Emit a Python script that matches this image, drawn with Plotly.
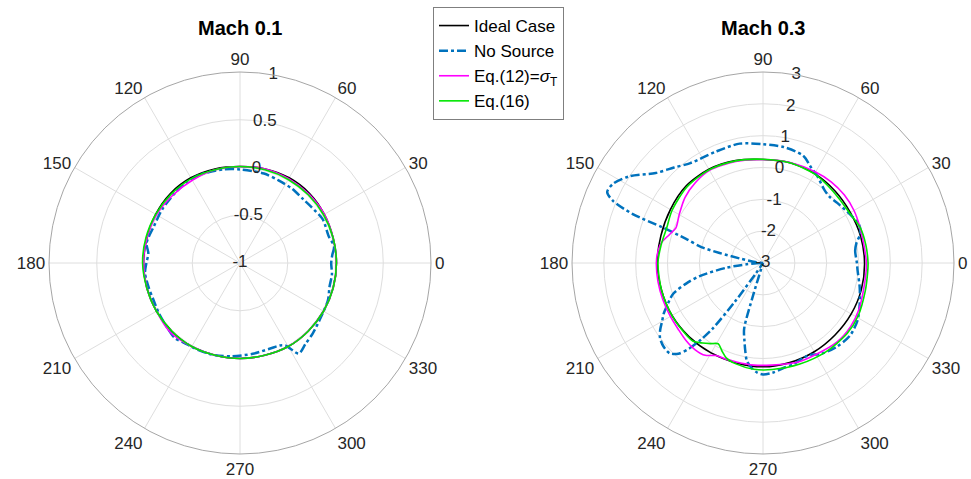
import plotly.graph_objects as go

# ---------------- data ----------------
angle_ticks = [0, 30, 60, 90, 120, 150, 180, 210, 240, 270, 300, 330]
angle_ticktext = [str(a) for a in angle_ticks]

r_label_angle = 80
r_ticks_01 = [-1, -0.5, 0, 0.5, 1]
r_ticktext_01 = ["-1", "-0.5", "0", "0.5", "1"]
r_ticks_03 = [-3, -2, -1, 0, 1, 2, 3]
r_ticktext_03 = ["-3", "-2", "-1", "0", "1", "2", "3"]

# Mach 0.1
theta_circ = [0, 15, 30, 45, 60, 75, 90, 105, 120, 135, 150, 165, 180,
              195, 210, 225, 240, 255, 270, 285, 300, 315, 330, 345, 360]
ideal_01 = [0.01, 0.01, 0.02, 0.03, 0.03, 0.02, 0.01, 0.02, 0.03, 0.03, 0.02, 0.01, 0.01,
            0.01, 0.01, 0.01, 0.01, 0.00, 0.00, 0.00, 0.01, 0.01, 0.01, 0.01, 0.01]
eq12_01 = [0.01, 0.01, 0.02, 0.02, 0.02, 0.02, 0.01, 0.01, 0.00, 0.00, 0.01, 0.01, 0.01,
           0.01, 0.01, 0.03, 0.01, 0.00, 0.00, 0.00, 0.01, 0.01, 0.01, 0.01, 0.01]
eq16_01 = [0.01, 0.01, 0.01, 0.01, 0.01, 0.01, 0.01, 0.01, 0.02, 0.02, 0.02, 0.02, 0.02,
           0.01, 0.01, 0.01, 0.01, 0.00, 0.00, 0.00, 0.01, 0.01, 0.01, 0.01, 0.01]
theta_ns_01 = [0, 5, 10, 17, 28, 38, 45, 55, 65, 75, 90, 100, 114, 125, 133, 145, 157,
               168, 174, 180, 186, 195, 203, 212, 221, 229, 235, 245, 255, 265, 278,
               289, 296, 299, 303, 309, 316, 326, 337, 345, 353, 360]
nosource_01 = [-0.045, -0.03, 0.0, -0.03, -0.02, -0.05, -0.06, -0.05, -0.045, -0.03,
               -0.02, -0.005, 0.015, 0.01, 0.0, -0.01, -0.02, 0.0, -0.035, -0.02, 0.0,
               -0.01, -0.015, 0.0, 0.017, 0.04, 0.02, 0.01, 0.0, -0.02, -0.04, -0.05,
               -0.04, -0.01, 0.13, 0.09, 0.06, 0.02, 0.0, -0.03, -0.03, -0.045]

# Mach 0.3
ideal_03 = [0.19, 0.18, 0.17, 0.20, 0.24, 0.26, 0.25, 0.33, 0.40, 0.42, 0.36, 0.32, 0.32,
            0.30, 0.30, 0.28, 0.26, 0.25, 0.26, 0.24, 0.22, 0.20, 0.20, 0.20, 0.19]
theta_eq12_03 = [0, 10, 21, 30, 40, 50, 60, 75, 90, 105, 120, 130, 140, 150, 158, 163,
                 169, 175, 180, 190, 200, 210, 218, 225, 232, 238, 243, 248, 255, 265,
                 275, 289, 300, 313, 324, 334, 345, 355, 360]
eq12_03 = [0.25, 0.22, 0.25, 0.30, 0.33, 0.33, 0.30, 0.27, 0.25, 0.30, 0.36, 0.30, 0.20,
           0.04, -0.05, 0.07, 0.26, 0.33, 0.35, 0.35, 0.35, 0.36, 0.38, 0.43, 0.46, 0.42,
           0.26, 0.24, 0.22, 0.22, 0.22, 0.30, 0.32, 0.40, 0.40, 0.35, 0.27, 0.25, 0.25]
theta_eq16_03 = [0, 10, 20, 30, 40, 50, 60, 75, 90, 105, 120, 135, 150, 160, 170, 180,
                 195, 210, 220, 228, 233, 237, 241, 245, 249, 255, 265, 275, 290, 305,
                 320, 331, 345, 355, 360]
eq16_03 = [0.30, 0.28, 0.25, 0.14, 0.13, 0.17, 0.23, 0.26, 0.26, 0.32, 0.38, 0.38, 0.30,
           0.22, 0.25, 0.30, 0.30, 0.30, 0.30, 0.30, 0.15, 0.02, -0.10, 0.05, 0.20, 0.28,
           0.35, 0.36, 0.38, 0.42, 0.45, 0.42, 0.33, 0.30, 0.30]
theta_ns_03 = [0, 7.5, 12, 17, 22, 30, 39, 45, 50, 58, 63, 69.5, 80, 90, 101, 113, 126,
               133, 140, 147, 152, 155.5, 157.5, 159.4, 160.5, 162.5, 165.5, 167, 169,
               173, 178, 182, 184.6, 187.4, 191.7, 195, 199, 204, 207, 210, 213, 216,
               220, 224, 227, 229.2, 231, 232.5, 234, 235.5, 237, 252, 253, 254, 256.5,
               258.5, 260.5, 263.5, 267, 270, 275, 281, 287, 293, 297, 302, 311, 320,
               329, 337, 346, 355.5, 360]
nosource_03 = [-0.05, -0.08, 0.0, 0.2, 0.25, 0.12, 0.0, -0.05, 0.0, 0.22, 0.35, 0.6,
               0.7, 0.73, 0.82, 0.8, 0.88, 1.1, 1.4, 2.0, 2.32, 2.38, 2.1, 1.37, 0.34,
               -0.45, -1.0, -1.6, -2.25, -2.75, -3.0, -2.8, -2.48, -1.84, -0.97, -0.5,
               -0.01, 0.3, 0.5, 0.66, 0.85, 1.0, 1.08, 1.08, 0.9, 0.55, 0.1, -0.4, -1.5,
               -2.6, -3.0, -3.0, -2.0, -0.85, -0.5, -0.2, 0.1, 0.3, 0.45, 0.5, 0.46,
               0.36, 0.32, 0.24, 0.24, 0.38, 0.5, 0.56, 0.47, 0.3, 0.13, -0.02, -0.05]

names = ["Ideal Case", "No Source", "Eq.(12)=<i>σ</i><sub>T</sub>", "Eq.(16)"]
colors = ["#000000", "#0072BD", "#FF00FF", "#00E600"]
widths = [1.6, 2.5, 1.6, 1.6]
dashes = ["solid", "dashdot", "solid", "solid"]

FONT = "Liberation Sans, Arial, Helvetica, sans-serif"
TICK_COLOR = "#262626"

fig = go.Figure()

series_01 = [(theta_circ, ideal_01), (theta_ns_01, nosource_01),
             (theta_circ, eq12_01), (theta_circ, eq16_01)]
series_03 = [(theta_circ, ideal_03), (theta_ns_03, nosource_03),
             (theta_eq12_03, eq12_03), (theta_eq16_03, eq16_03)]

for i, (th, rr) in enumerate(series_01):
    fig.add_trace(go.Scatterpolar(
        theta=th, r=rr, mode="lines", name=names[i], legendgroup=names[i],
        line=dict(color=colors[i], width=widths[i], dash=dashes[i], shape="spline", smoothing=0.8),
        subplot="polar", showlegend=True, hoverinfo="skip"))
for i, (th, rr) in enumerate(series_03):
    fig.add_trace(go.Scatterpolar(
        theta=th, r=rr, mode="lines", name=names[i], legendgroup=names[i],
        line=dict(color=colors[i], width=widths[i], dash=dashes[i], shape="spline", smoothing=0.8),
        subplot="polar2", showlegend=False, hoverinfo="skip"))

# radial tick labels, centred on the 80-degree ray (MATLAB style)
for sp, tv, tt in [("polar", r_ticks_01, r_ticktext_01), ("polar2", r_ticks_03, r_ticktext_03)]:
    fig.add_trace(go.Scatterpolar(
        theta=[r_label_angle] * len(tv), r=tv, text=tt, mode="text",
        textposition="middle center",
        textfont=dict(family=FONT, size=17, color=TICK_COLOR),
        subplot=sp, showlegend=False, hoverinfo="skip", cliponaxis=False))


def polar_cfg(xdom, ydom, rng, tv):
    return dict(
        domain=dict(x=xdom, y=ydom),
        bgcolor="white",
        angularaxis=dict(
            tickvals=angle_ticks, ticktext=angle_ticktext, direction="counterclockwise",
            rotation=0, showline=True, linecolor="#a6a6a6", linewidth=1,
            gridcolor="#dedede", gridwidth=1, ticks="",
            tickfont=dict(family=FONT, size=17, color=TICK_COLOR)),
        radialaxis=dict(
            range=rng, tickvals=tv, angle=r_label_angle, showticklabels=False,
            showline=False, ticks="", gridcolor="#dedede", gridwidth=1),
    )


W, H = 971, 479
fig.update_layout(
    width=W, height=H,
    margin=dict(l=0, r=0, t=0, b=0),
    paper_bgcolor="white",
    font=dict(family=FONT, size=17, color=TICK_COLOR),
    polar=polar_cfg([49 / W, 431 / W], [1 - 454 / H, 1 - 72 / H], [-1, 1], r_ticks_01),
    polar2=polar_cfg([572 / W, 954 / W], [1 - 454 / H, 1 - 72 / H], [-3, 3], r_ticks_03),
    legend=dict(x=433 / W, y=1 - 7 / H, xanchor="left", yanchor="top",
                bordercolor="#7f7f7f", borderwidth=1, bgcolor="white",
                font=dict(family=FONT, size=17, color="#000000"),
                tracegroupgap=0, itemwidth=30),
    annotations=[
        dict(text="<b>Mach 0.1</b>", x=240 / W, y=1 - 28 / H, xref="paper", yref="paper",
             xanchor="center", yanchor="middle",
             showarrow=False, font=dict(family=FONT, size=20, color="black")),
        dict(text="<b>Mach 0.3</b>", x=763 / W, y=1 - 28 / H, xref="paper", yref="paper",
             xanchor="center", yanchor="middle",
             showarrow=False, font=dict(family=FONT, size=20, color="black")),
    ],
)

fig.write_html("out.html")
